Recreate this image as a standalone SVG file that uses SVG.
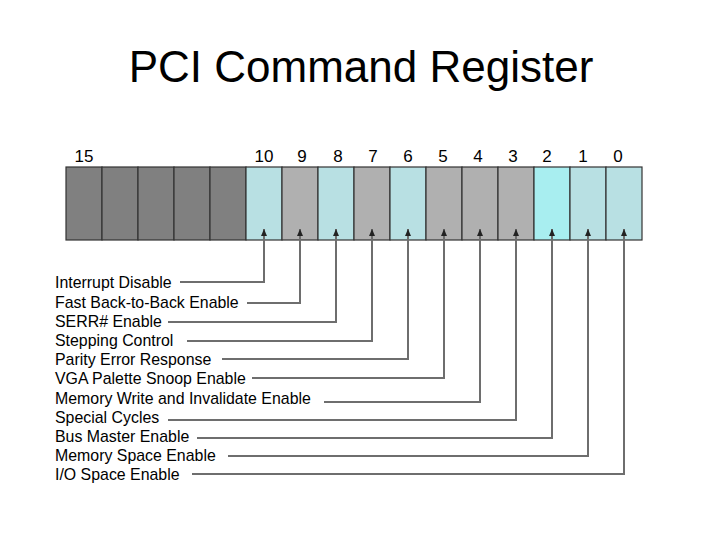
<svg xmlns="http://www.w3.org/2000/svg" width="720" height="540" viewBox="0 0 720 540">
<defs>
<marker id="ah" viewBox="0 0 7 6" refX="7" refY="3" markerWidth="7" markerHeight="6" markerUnits="userSpaceOnUse" orient="auto">
<path d="M0,0 L7,3 L0,6 Z" fill="#222"/>
</marker>
</defs>
<style>
text{font-family:"Liberation Sans",Arial,sans-serif;fill:#000}
.title{font-size:44px}
.num{font-size:17px;text-anchor:middle}
.lbl{font-size:15.9px}
.c{stroke:#333;stroke-width:1.2}
.d{fill:#808080}
.g{fill:#b0b0b0}
.b{fill:#b8e0e3}
.y{fill:#a8eef0}
.con{fill:none;stroke:#6e6e6e;stroke-width:2}
</style>
<rect width="720" height="540" fill="#fff"/>
<text class="title" x="361" y="82" text-anchor="middle">PCI Command Register</text>
<g id="register">
<g id="bit15"><rect class="c d" x="66" y="167" width="36" height="73"/><text class="num" x="84" y="162">15</text></g>
<g id="bit14"><rect class="c d" x="102" y="167" width="36" height="73"/></g>
<g id="bit13"><rect class="c d" x="138" y="167" width="36" height="73"/></g>
<g id="bit12"><rect class="c d" x="174" y="167" width="36" height="73"/></g>
<g id="bit11"><rect class="c d" x="210" y="167" width="36" height="73"/></g>
<g id="bit10"><rect class="c b" x="246" y="167" width="36" height="73"/><text class="num" x="264" y="162">10</text></g>
<g id="bit9"><rect class="c g" x="282" y="167" width="36" height="73"/><text class="num" x="302" y="162">9</text></g>
<g id="bit8"><rect class="c b" x="318" y="167" width="36" height="73"/><text class="num" x="338" y="162">8</text></g>
<g id="bit7"><rect class="c g" x="354" y="167" width="36" height="73"/><text class="num" x="373" y="162">7</text></g>
<g id="bit6"><rect class="c b" x="390" y="167" width="36" height="73"/><text class="num" x="408" y="162">6</text></g>
<g id="bit5"><rect class="c g" x="426" y="167" width="36" height="73"/><text class="num" x="443" y="162">5</text></g>
<g id="bit4"><rect class="c g" x="462" y="167" width="36" height="73"/><text class="num" x="478" y="162">4</text></g>
<g id="bit3"><rect class="c g" x="498" y="167" width="36" height="73"/><text class="num" x="513" y="162">3</text></g>
<g id="bit2"><rect class="c y" x="534" y="167" width="36" height="73"/><text class="num" x="547" y="162">2</text></g>
<g id="bit1"><rect class="c b" x="570" y="167" width="36" height="73"/><text class="num" x="583" y="162">1</text></g>
<g id="bit0"><rect class="c b" x="606" y="167" width="36" height="73"/><text class="num" x="618" y="162">0</text></g>
</g>
<g id="labels">
<text class="lbl" x="55" y="288">Interrupt Disable</text>
<text class="lbl" x="55" y="308">Fast Back-to-Back Enable</text>
<text class="lbl" x="55" y="327">SERR# Enable</text>
<text class="lbl" x="55" y="346">Stepping Control</text>
<text class="lbl" x="55" y="365">Parity Error Response</text>
<text class="lbl" x="55" y="384">VGA Palette Snoop Enable</text>
<text class="lbl" x="55" y="404">Memory Write and Invalidate Enable</text>
<text class="lbl" x="55" y="423">Special Cycles</text>
<text class="lbl" x="55" y="442">Bus Master Enable</text>
<text class="lbl" x="55" y="461">Memory Space Enable</text>
<text class="lbl" x="55" y="480">I/O Space Enable</text>
</g>
<g id="connectors">
<path class="con" marker-end="url(#ah)" d="M180,282 H264 V229"/>
<path class="con" marker-end="url(#ah)" d="M247,303 H300 V229"/>
<path class="con" marker-end="url(#ah)" d="M168,322 H336 V229"/>
<path class="con" marker-end="url(#ah)" d="M187,341 H372 V229"/>
<path class="con" marker-end="url(#ah)" d="M222,359 H408 V229"/>
<path class="con" marker-end="url(#ah)" d="M252,378 H444 V229"/>
<path class="con" marker-end="url(#ah)" d="M324,402 H480 V229"/>
<path class="con" marker-end="url(#ah)" d="M168,420 H516 V229"/>
<path class="con" marker-end="url(#ah)" d="M197,438 H552 V229"/>
<path class="con" marker-end="url(#ah)" d="M228,456 H588 V229"/>
<path class="con" marker-end="url(#ah)" d="M192,474 H624 V229"/>
</g>
</svg>
